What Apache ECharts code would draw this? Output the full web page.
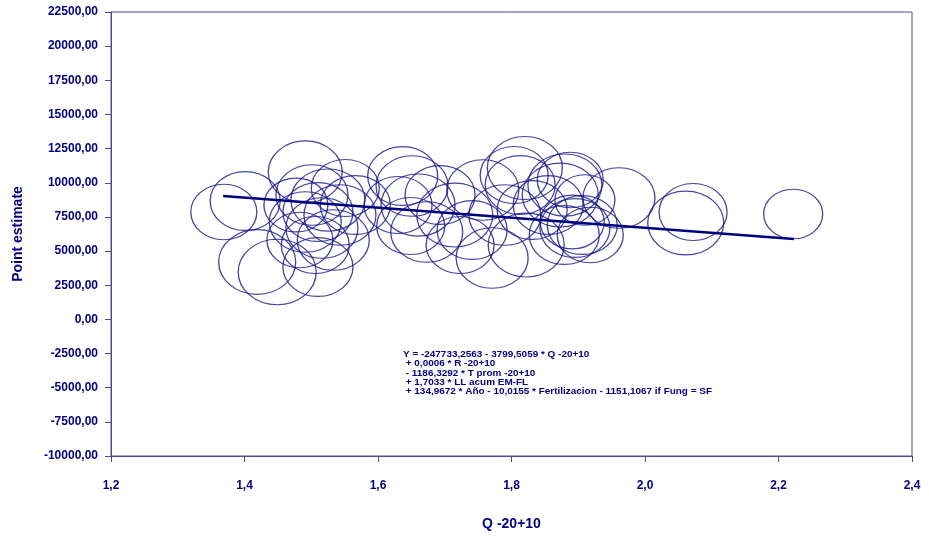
<!DOCTYPE html>
<html>
<head>
<meta charset="utf-8">
<script src="https://cdn.jsdelivr.net/npm/echarts@6/dist/echarts.min.js"></script>
<style>
  html, body { margin: 0; padding: 0; background: #ffffff; }
  #chart { width: 929px; height: 537px; }
</style>
</head>
<body>
<div id="chart"></div>
<script>
// Q -20+10 values of the observations
const qValues = [
  1.369, 1.401, 1.419, 1.449, 1.491, 1.510, 1.477, 1.491, 1.501, 1.510,
  1.516, 1.525, 1.533, 1.543, 1.551, 1.506, 1.483, 1.566, 1.637, 1.651,
  1.630, 1.660, 1.649, 1.673, 1.693, 1.715, 1.723, 1.757, 1.741, 1.771,
  1.790, 1.804, 1.820, 1.813, 1.822, 1.831, 1.873, 1.880, 1.891, 1.879,
  1.895, 1.906, 1.918, 1.888, 1.855, 1.910, 1.961, 2.061, 2.072, 2.222
];
// Point estimates
const pointEstimates = [
  7860, 8665, 4200, 3468, 10788, 3834, 8372, 7128, 9104, 7860,
  6689, 8738, 5810, 7640, 9617, 5444, 5810, 8372, 10495, 9763,
  8372, 8372, 6835, 6396, 9104, 7640, 5444, 9470, 6542, 4493,
  7640, 10568, 11081, 9836, 5444, 8006, 9104, 9836, 7128, 6176,
  6689, 6908, 6176, 10202, 8372, 8738, 8885, 7055, 7860, 7714
];
// Bubble weights
const weights = [
  66, 70, 77, 78, 74, 70, 64, 72, 72, 70,
  72, 74, 72, 72, 68, 68, 66, 70, 70, 72,
  68, 74, 68, 72, 70, 76, 68, 72, 70, 72,
  72, 68, 75, 70, 76, 70, 76, 74, 64, 70,
  70, 70, 66, 66, 70, 60, 72, 76, 68, 59
];
// Fitted regression line (Q, estimate)
const fitQ = [1.368, 2.223];
const fitY = [9030, 5885];

const yTicks = { min: -10000, max: 22500, step: 2500 };
const xTicks = { min: 1.2, max: 2.4, step: 0.2 };

const equationLines = [
  'Y = -247733,2563 - 3799,5059 * Q -20+10',
  ' + 0,0006 * R -20+10',
  ' - 1186,3292 * T prom -20+10',
  ' + 1,7033 * LL acum EM-FL',
  ' + 134,9672 * Año - 10,0155 * Fertilizacion - 1151,1067 if Fung = SF'
];

const NAVY = '#000080';
const AXIS = '#4a4a98';
const FONT = '"Liberation Sans", Arial, sans-serif';

const bubbles = qValues.map((q, i) => ({ value: [q, pointEstimates[i]], w: weights[i] }));
const fitData = fitQ.map((q, i) => [q, fitY[i]]);

const chart = echarts.init(document.getElementById('chart'));
chart.setOption({
  animation: false,
  backgroundColor: '#ffffff',
  grid: {
    left: 111, right: 17, top: 12, bottom: 81,
    show: true, borderColor: AXIS, borderWidth: 1
  },
  xAxis: {
    type: 'value',
    min: xTicks.min, max: xTicks.max, interval: xTicks.step,
    name: 'Q -20+10',
    nameLocation: 'middle',
    nameGap: 61,
    nameTextStyle: { color: NAVY, fontFamily: FONT, fontWeight: 'bold', fontSize: 14 },
    axisLine: { show: true, onZero: false, lineStyle: { color: AXIS, width: 1 } },
    axisTick: { show: true, inside: false, length: 6, lineStyle: { color: AXIS } },
    splitLine: { show: false },
    axisLabel: {
      color: NAVY, fontFamily: FONT, fontWeight: 'bold', fontSize: 12, margin: 24,
      formatter: v => v.toFixed(1).replace('.', ',')
    }
  },
  yAxis: {
    type: 'value',
    min: yTicks.min, max: yTicks.max, interval: yTicks.step,
    name: 'Point estimate',
    nameLocation: 'middle',
    nameGap: 86,
    nameTextStyle: { color: NAVY, fontFamily: FONT, fontWeight: 'bold', fontSize: 14 },
    axisLine: { show: true, onZero: false, lineStyle: { color: AXIS, width: 1 } },
    axisTick: { show: true, inside: false, length: 6, lineStyle: { color: AXIS } },
    splitLine: { show: false },
    axisLabel: {
      color: NAVY, fontFamily: FONT, fontWeight: 'bold', fontSize: 12, margin: 13,
      formatter: v => v.toFixed(2).replace('.', ',')
    }
  },
  series: [
    {
      type: 'scatter',
      data: bubbles,
      symbol: 'circle',
      symbolSize: (val, p) => [p.data.w, p.data.w * 0.84],
      itemStyle: { color: 'rgba(0,0,0,0)', borderColor: '#14148a', borderWidth: 1.2 },
      silent: true,
      z: 2
    },
    {
      type: 'line',
      data: fitData,
      symbol: 'none',
      lineStyle: { color: NAVY, width: 2.5 },
      silent: true,
      z: 3
    }
  ],
  graphic: [
    {
      type: 'text',
      x: 403,
      y: 350,
      scaleX: 1.17,
      style: {
        text: equationLines.join('\n'),
        fill: NAVY,
        font: 'bold 8.5px ' + FONT,
        lineHeight: 9.3
      }
    }
  ]
});
</script>
</body>
</html>
